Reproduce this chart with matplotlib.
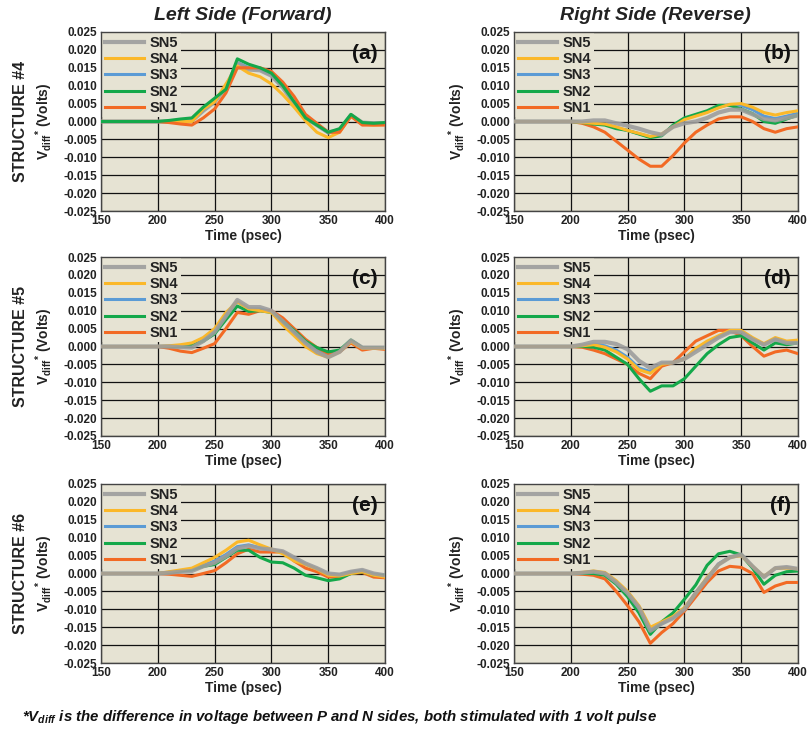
import matplotlib
matplotlib.use("Agg")
import matplotlib.pyplot as plt

plt.rcParams['font.family'] = ['Liberation Sans', 'DejaVu Sans']
plt.rcParams['font.weight'] = 'bold'
plt.rcParams['mathtext.fontset'] = 'custom'
plt.rcParams['mathtext.rm'] = 'Liberation Sans:bold'
plt.rcParams['mathtext.bf'] = 'Liberation Sans:bold'
plt.rcParams['mathtext.it'] = 'Liberation Sans:italic:bold'
plt.rcParams['mathtext.bfit'] = 'Liberation Sans:italic:bold'

# time axis (psec)
t = [150, 200, 210, 220, 230, 240, 250, 260, 270, 280, 290, 300,
     310, 320, 330, 340, 350, 360, 370, 380, 390, 400]

# (a) structure #4, left side
a_sn5 = [0, 0, 0, 0, 0.0002, 0.003, 0.0055, 0.0095, 0.0163, 0.0145, 0.0143, 0.0128, 0.0095, 0.005, 0.001, -0.001, -0.003, -0.0025, 0.0018, -0.0003, -0.0005, -0.0005]
a_sn4 = [0, 0, 0, 0, 0, 0.0035, 0.0055, 0.0105, 0.0155, 0.0135, 0.0125, 0.0105, 0.0075, 0.004, 0.0002, -0.003, -0.0045, -0.003, 0.0015, -0.0007, -0.001, -0.0008]
a_sn3 = [0, 0, 0, 0, 0.0001, 0.0032, 0.0058, 0.0098, 0.0165, 0.015, 0.0145, 0.013, 0.0098, 0.0052, 0.001, -0.001, -0.0032, -0.0025, 0.0018, -0.0003, -0.0005, -0.0005]
a_sn2 = [0, 0, 0.0003, 0.0007, 0.001, 0.004, 0.0065, 0.009, 0.0175, 0.016, 0.015, 0.0135, 0.01, 0.0055, 0.001, -0.001, -0.003, -0.002, 0.002, -0.0003, -0.0005, -0.0003]
a_sn1 = [0, 0, -0.0003, -0.0007, -0.001, 0.001, 0.0035, 0.008, 0.015, 0.015, 0.015, 0.014, 0.011, 0.007, 0.002, -0.0005, -0.003, -0.003, 0.0015, -0.001, -0.001, -0.001]

# (b) structure #4, right side
b_sn5 = [0, 0, 0, 0.0003, 0.0003, -0.0005, -0.0012, -0.002, -0.003, -0.0037, -0.0015, -0.0005, 0, 0.001, 0.0025, 0.0033, 0.0033, 0.002, 0.0007, 0.0003, 0.001, 0.0017]
b_sn4 = [0, 0, -0.0003, -0.0005, -0.0007, -0.0015, -0.0025, -0.0033, -0.0042, -0.0035, -0.0015, 0.0005, 0.0015, 0.0025, 0.0038, 0.0048, 0.005, 0.004, 0.0025, 0.0018, 0.0025, 0.003]
b_sn3 = [0, 0, -0.0003, -0.0006, -0.0008, -0.0017, -0.0025, -0.0034, -0.0043, -0.0037, -0.0013, 0.0008, 0.0017, 0.0027, 0.004, 0.0047, 0.0045, 0.0033, 0.0015, 0.0008, 0.0015, 0.0023]
b_sn2 = [0, 0, -0.0003, -0.0007, -0.001, -0.002, -0.0025, -0.0035, -0.0045, -0.004, -0.001, 0.001, 0.002, 0.003, 0.0045, 0.0045, 0.0035, 0.0022, 0, -0.0005, 0.0007, 0.0018]
b_sn1 = [0, 0, -0.0005, -0.0015, -0.003, -0.0055, -0.008, -0.0105, -0.0125, -0.0125, -0.0095, -0.006, -0.003, -0.001, 0.0007, 0.0013, 0.0013, 0, -0.002, -0.003, -0.002, -0.0015]

# (c) structure #5, left side
c_sn5 = [0, 0, 0, -0.0002, -0.0003, 0.0015, 0.004, 0.0085, 0.013, 0.011, 0.011, 0.01, 0.007, 0.004, 0.001, -0.0015, -0.003, -0.0015, 0.0017, -0.0003, -0.0003, -0.0003]
c_sn4 = [0, 0, 0.0002, 0.0005, 0.001, 0.0025, 0.005, 0.0095, 0.0125, 0.0105, 0.01, 0.0095, 0.006, 0.003, 0, -0.002, -0.003, -0.0015, 0.0013, -0.0005, -0.0005, -0.0005]
c_sn3 = [0, 0, 0.0001, 0.0002, 0.0005, 0.002, 0.0045, 0.009, 0.0125, 0.0105, 0.0105, 0.0098, 0.0068, 0.004, 0.0012, -0.001, -0.0025, -0.0013, 0.0016, -0.0004, -0.0004, -0.0004]
c_sn2 = [0, 0, 0, 0, 0.0003, 0.0015, 0.0035, 0.0075, 0.0113, 0.0098, 0.01, 0.0095, 0.007, 0.0045, 0.0015, -0.0003, -0.0015, -0.001, 0.0018, -0.0003, -0.0003, -0.0003]
c_sn1 = [0, 0, -0.0005, -0.0013, -0.0017, -0.0005, 0.0008, 0.005, 0.0095, 0.009, 0.01, 0.01, 0.008, 0.005, 0.002, -0.0003, -0.002, -0.0015, 0.001, -0.001, -0.0005, -0.0008]

# (d) structure #5, right side
d_sn5 = [0, 0, 0.0005, 0.0013, 0.0013, 0.0007, -0.0008, -0.004, -0.006, -0.0045, -0.0045, -0.0035, -0.0015, 0.0005, 0.0025, 0.004, 0.004, 0.002, 0.0005, 0.002, 0.001, 0.001]
d_sn4 = [0, 0, 0.0002, 0.0005, -0.0002, -0.0015, -0.0035, -0.0065, -0.0075, -0.005, -0.0045, -0.0035, -0.0005, 0.0015, 0.003, 0.0045, 0.0045, 0.0025, 0.0008, 0.0025, 0.0015, 0.0018]
d_sn3 = [0, 0, 0.0003, 0.0007, 0.0002, -0.001, -0.003, -0.006, -0.007, -0.0048, -0.0045, -0.0033, -0.0008, 0.0012, 0.0028, 0.0042, 0.0043, 0.0022, 0.0006, 0.0022, 0.0012, 0.0014]
d_sn2 = [0, 0, 0, -0.0002, -0.001, -0.003, -0.005, -0.009, -0.0125, -0.011, -0.011, -0.009, -0.0055, -0.002, 0.0005, 0.0025, 0.003, 0.001, -0.001, 0.001, 0.0005, 0.001]
d_sn1 = [0, 0, -0.0002, -0.001, -0.002, -0.0035, -0.005, -0.0075, -0.009, -0.0055, -0.0045, -0.0015, 0.0015, 0.003, 0.0045, 0.0045, 0.003, 0, -0.0027, -0.0015, -0.001, -0.002]

# (e) structure #6, left side
e_sn5 = [0, 0, 0.0002, 0.0005, 0.0007, 0.002, 0.003, 0.0048, 0.007, 0.0077, 0.007, 0.0067, 0.0062, 0.0045, 0.0028, 0.0015, 0, -0.0003, 0.0005, 0.001, 0, -0.0005]
e_sn4 = [0, 0, 0.0005, 0.001, 0.0015, 0.003, 0.0045, 0.0065, 0.0088, 0.0093, 0.008, 0.0068, 0.0055, 0.0035, 0.0025, 0.0012, -0.0005, -0.0007, 0, 0.0005, -0.0005, -0.001]
e_sn3 = [0, 0, 0.0003, 0.0007, 0.001, 0.0023, 0.0035, 0.0053, 0.0075, 0.008, 0.0072, 0.0066, 0.006, 0.0042, 0.0026, 0.0013, -0.0002, -0.0004, 0.0004, 0.0008, -0.0002, -0.0007]
e_sn2 = [0, 0, 0.0003, 0.0007, 0.001, 0.002, 0.0025, 0.0045, 0.0065, 0.0065, 0.0045, 0.0032, 0.003, 0.0015, -0.0005, -0.0012, -0.002, -0.0015, 0, 0.0005, -0.0005, -0.0005]
e_sn1 = [0, 0, -0.0002, -0.0005, -0.0008, 0, 0.0008, 0.003, 0.0055, 0.0068, 0.006, 0.006, 0.006, 0.0035, 0.0015, 0.0005, -0.001, -0.001, 0, 0.0003, -0.001, -0.0012]

# (f) structure #6, right side
f_sn5 = [0, 0, 0.0002, 0.0005, 0, -0.0025, -0.0055, -0.0095, -0.016, -0.014, -0.0125, -0.01, -0.0055, -0.0015, 0.0025, 0.0045, 0.0053, 0.002, -0.001, 0.0015, 0.0018, 0.0013]
f_sn4 = [0, 0, 0.0003, 0.0007, 0.0003, -0.002, -0.005, -0.009, -0.015, -0.0135, -0.012, -0.0095, -0.0055, -0.001, 0.0025, 0.0045, 0.005, 0.002, -0.0008, 0.0015, 0.0015, 0.0013]
f_sn3 = [0, 0, 0.0002, 0.0004, 0.0001, -0.0023, -0.0055, -0.0095, -0.0158, -0.014, -0.0123, -0.0098, -0.0053, -0.0013, 0.0027, 0.0046, 0.0052, 0.0018, -0.0009, 0.0014, 0.0016, 0.0012]
f_sn2 = [0, 0, 0, 0, -0.0005, -0.003, -0.0065, -0.011, -0.017, -0.0135, -0.011, -0.0072, -0.0032, 0.0023, 0.0055, 0.0062, 0.0052, 0.0015, -0.003, -0.0005, 0.0005, 0.0007]
f_sn1 = [0, 0, -0.0002, -0.0005, -0.0015, -0.005, -0.009, -0.0135, -0.0195, -0.0165, -0.014, -0.0105, -0.0065, -0.0025, 0.0007, 0.002, 0.0017, 0, -0.0053, -0.0035, -0.0025, -0.0025]

series_names = ['SN5', 'SN4', 'SN3', 'SN2', 'SN1']
panel_labels = ['(a)', '(b)', '(c)', '(d)', '(e)', '(f)']
row_labels = ['STRUCTURE #4', 'STRUCTURE #5', 'STRUCTURE #6']
col_titles = ['Left Side (Forward)', 'Right Side (Reverse)']
x_ticks = [150, 200, 250, 300, 350, 400]
y_ticks = [0.025, 0.02, 0.015, 0.01, 0.005, 0.0, -0.005, -0.01, -0.015, -0.02, -0.025]
y_ticklabels = ['0.025', '0.020', '0.015', '0.010', '0.005', '0.000',
                '-0.005', '-0.010', '-0.015', '-0.020', '-0.025']

panels = [
    [a_sn5, a_sn4, a_sn3, a_sn2, a_sn1],
    [b_sn5, b_sn4, b_sn3, b_sn2, b_sn1],
    [c_sn5, c_sn4, c_sn3, c_sn2, c_sn1],
    [d_sn5, d_sn4, d_sn3, d_sn2, d_sn1],
    [e_sn5, e_sn4, e_sn3, e_sn2, e_sn1],
    [f_sn5, f_sn4, f_sn3, f_sn2, f_sn1],
]

colors = {'SN5': '#9d9d9d', 'SN4': '#fbb829', 'SN3': '#5b9bd5', 'SN2': '#14a84a', 'SN1': '#f26a24'}
widths = {'SN5': 3.0, 'SN4': 2.2, 'SN3': 2.2, 'SN2': 2.2, 'SN1': 2.2}
# panel (a) shows green on top, the others the grey trace
orders = [['SN3', 'SN5', 'SN4', 'SN1', 'SN2']] + [['SN3', 'SN1', 'SN2', 'SN4', 'SN5']] * 5
bg = '#e6e3d3'

W, H = 807, 730
fig = plt.figure(figsize=(W / 100, H / 100), dpi=100)

col_left = [101, 514]
row_top = [32, 257, 484]
ax_w, ax_h = 284, 179

for i, data in enumerate(panels):
    r, c = divmod(i, 2)
    ax = fig.add_axes([col_left[c] / W, 1 - (row_top[r] + ax_h) / H, ax_w / W, ax_h / H])
    ax.set_facecolor(bg)
    lines = {}
    for name in orders[i]:
        y = data[series_names.index(name)]
        lines[name], = ax.plot(t, y, color=colors[name], lw=widths[name], label=name,
                               solid_joinstyle='round', zorder=3,
                               alpha=0.9 if name == 'SN5' else 1.0)
    ax.set_xlim(150, 400)
    ax.set_ylim(-0.025, 0.025)
    ax.set_xticks(x_ticks)
    ax.set_yticks(y_ticks)
    ax.set_yticklabels(y_ticklabels)
    ax.tick_params(length=0, labelsize=8.5, pad=3)
    for lab in ax.get_xticklabels() + ax.get_yticklabels():
        lab.set_fontweight('bold')
        lab.set_color('#222222')
    ax.grid(True, color='#111111', lw=0.9)
    ax.set_axisbelow(True)
    for sp in ax.spines.values():
        sp.set_color('#444444')
        sp.set_linewidth(1.0)
    ax.set_xlabel('Time (psec)', fontsize=10, fontweight='bold', labelpad=1, color='#222222')
    ax.set_ylabel(r'$\mathbf{V_{diff}}^{*}$ (Volts)', fontsize=10, fontweight='bold',
                  labelpad=6, color='#222222')
    if c == 0:
        ax.text(-0.285, 0.5, row_labels[r], transform=ax.transAxes, rotation=90,
                ha='center', va='center', fontsize=11.5, fontweight='bold', color='#222222')
    ax.text(0.975, 0.935, panel_labels[i], transform=ax.transAxes, ha='right', va='top',
            fontsize=15, fontweight='bold', color='#111111')
    leg = ax.legend([lines[n] for n in series_names], series_names, loc='upper left',
                    bbox_to_anchor=(0.0, 1.0), frameon=True, facecolor=bg, edgecolor='none',
                    framealpha=1, fancybox=False, handlelength=2.7,
                    handletextpad=0.4, labelspacing=0.16, borderaxespad=0.1, borderpad=0.15,
                    prop={'weight': 'bold', 'size': 10.5})
    leg.set_zorder(2)
    for txt in leg.get_texts():
        txt.set_color('#222222')

fig.text(243 / W, 1 - 16 / H, col_titles[0], ha='center', va='center', fontsize=14,
         fontweight='bold', style='italic', color='#222222')
fig.text(655 / W, 1 - 16 / H, col_titles[1], ha='center', va='center', fontsize=14,
         fontweight='bold', style='italic', color='#222222')

fig.text(22 / W, 1 - 717 / H,
         r'*$\mathbfit{V_{diff}}$ is the difference in voltage between P and N sides, both stimulated with 1 volt pulse',
         ha='left', va='center', fontsize=10.8, fontweight='bold', style='italic', color='#111111')

fig.savefig('out.png', dpi=100)
